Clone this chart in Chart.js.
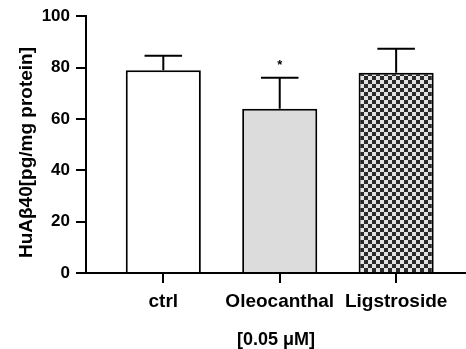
<!DOCTYPE html>
<html>
<head>
<meta charset="utf-8">
<script src="https://cdn.jsdelivr.net/npm/chart.js@4.4.0/dist/chart.umd.min.js"></script>
<style>
html,body{margin:0;padding:0;background:#fff;}
#wrap{width:466px;height:349px;position:relative;}
</style>
</head>
<body>
<div id="wrap"><canvas id="c" width="466" height="349"></canvas></div>
<script>
const categories = ["ctrl", "Oleocanthal", "Ligstroside"];
const positions = [1, 2, 3];
const means = [79, 64, 78];
const errorsUp = [5.6, 12, 9.3];
const significance = ["", "*", ""];
const yTicks = [0, 20, 40, 60, 80, 100];
const yTitle = "HuAβ40[pg/mg protein]   ";
const xTitle = "[0.05 μM]";

function checker() {
  const c = document.createElement('canvas');
  c.width = 8; c.height = 8;
  const g = c.getContext('2d');
  g.fillStyle = '#e2e2e2'; g.fillRect(0, 0, 8, 8);
  g.fillStyle = '#2a2a2a';
  g.fillRect(0, 0, 4, 4); g.fillRect(4, 4, 4, 4);
  return g.createPattern(c, 'repeat');
}

const ctx = document.getElementById('c').getContext('2d');
const fills = ['#ffffff', '#dcdcdc', checker()];

const errorPlugin = {
  id: 'errbars',
  afterDatasetsDraw(chart) {
    const meta = chart.getDatasetMeta(0);
    const ys = chart.scales.y;
    const g = chart.ctx;
    g.save();
    g.strokeStyle = '#000';
    g.lineWidth = 2;
    meta.data.forEach((bar, i) => {
      const x = bar.x;
      const top = ys.getPixelForValue(means[i]);
      const eTop = ys.getPixelForValue(means[i] + errorsUp[i]);
      const half = bar.width * 0.25;
      g.beginPath();
      g.moveTo(x, top); g.lineTo(x, eTop);
      g.moveTo(x - half, eTop); g.lineTo(x + half, eTop);
      g.stroke();
      if (significance[i]) {
        g.fillStyle = '#000';
        g.font = 'bold 13px "Liberation Sans", Arial, sans-serif';
        g.textAlign = 'center';
        g.textBaseline = 'middle';
        g.fillText(significance[i], x, eTop - 12);
      }
    });
    g.restore();
  }
};

new Chart(ctx, {
  type: 'bar',
  data: {
    datasets: [{
      data: positions.map((p, i) => ({x: p, y: means[i]})),
      backgroundColor: fills,
      borderColor: '#000',
      borderWidth: 2,
      borderSkipped: 'bottom',
      barPercentage: 0.645,
      categoryPercentage: 1.0
    }]
  },
  options: {
    responsive: false,
    animation: false,
    layout: {padding: {left: 0, right: 0, top: 15, bottom: 0}},
    plugins: {legend: {display: false}, tooltip: {enabled: false}},
    scales: {
      x: {
        type: 'linear',
        offset: false,
        min: 0.336,
        max: 3.6,
        afterBuildTicks(scale) { scale.ticks = positions.map(v => ({value: v})); },
        afterFit(scale) { scale.height = 76; },
        border: {display: true, color: '#000', width: 2},
        grid: {offset: false, drawOnChartArea: false, drawTicks: true, tickLength: 10, color: '#000', lineWidth: 2},
        ticks: {
          color: '#000',
          padding: 7,
          maxRotation: 0,
          autoSkip: false,
          font: {family: '"Liberation Sans", Arial, sans-serif', size: 19, weight: 'bold'},
          callback: (v) => categories[positions.indexOf(v)] || ''
        },
        title: {
          display: true,
          text: xTitle,
          color: '#000',
          padding: {top: 4, bottom: 0},
          font: {family: '"Liberation Sans", Arial, sans-serif', size: 18, weight: 'bold', lineHeight: 1.0}
        }
      },
      y: {
        min: 0,
        max: 100,
        afterBuildTicks(scale) { scale.ticks = yTicks.map(v => ({value: v})); },
        afterFit(scale) { scale.width = 86; },
        border: {display: true, color: '#000', width: 2},
        grid: {drawOnChartArea: false, drawTicks: true, tickLength: 10, color: '#000', lineWidth: 2},
        ticks: {
          color: '#000',
          padding: 6,
          font: {family: '"Liberation Sans", Arial, sans-serif', size: 17, weight: 'bold'}
        },
        title: {
          display: true,
          text: yTitle,
          color: '#000',
          padding: {top: 15, bottom: 0},
          font: {family: '"Liberation Sans", Arial, sans-serif', size: 19, weight: 'bold'}
        }
      }
    }
  },
  plugins: [errorPlugin]
});
</script>
</body>
</html>
